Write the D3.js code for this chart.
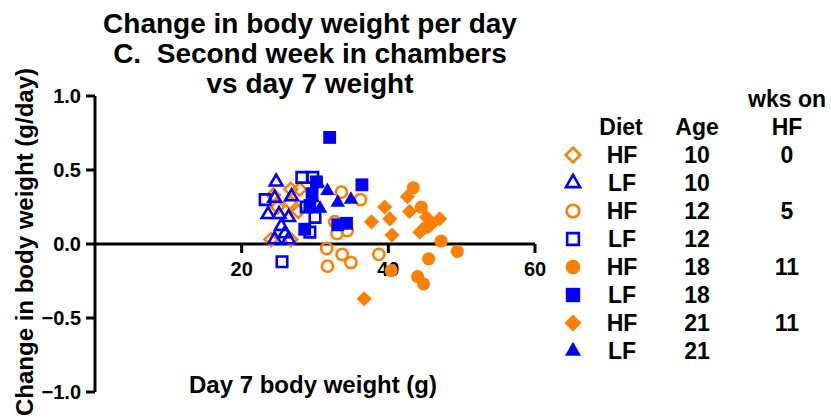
<!DOCTYPE html>
<meta charset="utf-8">
<body style="margin:0;background:#fff">
<script src="https://cdn.jsdelivr.net/npm/d3@7"></script>
<script>
var width = 831, height = 419;

// HF 10 (open diamond)
var hf10 = [[24.3,0.33],[26.7,0.37],[27.9,0.37],[26.6,0.28],[24.9,0.25],[27.7,0.22],[24.0,0.03],[26.7,0.03]];
// LF 10 (open triangle)
var lf10 = [[24.7,0.42],[24.5,0.31],[26.8,0.32],[23.6,0.20],[25.1,0.20],[26.4,0.18],[25.4,0.12],[25.9,0.07],[24.5,0.03],[26.4,0.03]];
// HF 12 (open circle)
var hf12 = [[33.6,0.35],[36.2,0.30],[32.7,0.15],[33.0,0.07],[34.4,0.09],[31.6,-0.03],[33.7,-0.07],[34.9,-0.125],[31.7,-0.15],[38.7,-0.07]];
// LF 12 (open square)
var lf12 = [[23.2,0.30],[28.2,0.45],[29.7,0.45],[28.8,0.25],[30.0,0.18],[29.3,0.08],[25.5,-0.12]];
// HF 18 (filled circle)
var hf18 = [[43.4,0.38],[44.5,0.25],[45.1,0.11],[47.2,0.02],[49.4,-0.05],[45.5,-0.10],[40.4,-0.18],[44.0,-0.22],[44.8,-0.27]];
// LF 18 (filled square)
var lf18 = [[32.0,0.72],[36.4,0.40],[33.1,0.13],[34.3,0.14],[29.3,0.26],[30.2,0.42],[29.6,0.34],[28.6,0.10]];
// HF 21 (filled diamond)
var hf21 = [[42.6,0.32],[39.5,0.25],[42.9,0.22],[37.7,0.15],[40.2,0.17],[40.5,0.06],[45.2,0.18],[47.0,0.17],[44.3,0.08],[45.8,0.13],[36.7,-0.37]];
// LF 21 (filled triangle)
var lf21 = [[30.4,0.41],[31.7,0.36],[33.1,0.28],[34.9,0.30],[29.7,0.31],[30.7,0.24]];

var xTicks = [20, 40, 60];
var yTicks = [-1.0, -0.5, 0.0, 0.5, 1.0];

var diets = ["HF","LF","HF","LF","HF","LF","HF","LF"];
var ages = ["10","10","12","12","18","18","21","21"];
var wks = ["0","","5","","11","","11",""];

var orange = "#ff8000", blue = "#0000ff";

var series = [
  {data: hf10, shape: "diamond", fill: false, color: orange},
  {data: lf10, shape: "triangle", fill: false, color: blue},
  {data: hf12, shape: "circle", fill: false, color: orange},
  {data: lf12, shape: "square", fill: false, color: blue},
  {data: hf18, shape: "circle", fill: true, color: orange},
  {data: lf18, shape: "square", fill: true, color: blue},
  {data: hf21, shape: "diamond", fill: true, color: orange},
  {data: lf21, shape: "triangle", fill: true, color: blue}
];

var svg = d3.select("body").append("svg")
    .attr("width", width)
    .attr("height", height)
    .style("font-family", "Liberation Sans, Arial, sans-serif")
    .style("font-weight", "bold");

var x = d3.scaleLinear().domain([0, 60]).range([95, 535]);
var y = d3.scaleLinear().domain([-1, 1]).range([392, 96]);

function symbolPath(s, k) {
  var open = !s.fill;
  k = k || 1;
  if (s.shape == "circle") return d3.symbol(d3.symbolCircle, (open ? 100 : 135) * k)();
  if (s.shape == "square") return d3.symbol(d3.symbolSquare, (open ? 110 : 165) * k)();
  if (s.shape == "diamond") return d3.symbol(d3.symbolSquare, (open ? 85 : 115) * k)();
  return d3.symbol(d3.symbolTriangle, (open ? 70 : 90) * k)();
}
function rot(s) { return s.shape == "diamond" ? " rotate(45)" : ""; }

// title
var title = ["Change in body weight per day", "C.  Second week in chambers", "vs day 7 weight"];
svg.append("g").selectAll("text")
  .data(title).enter().append("text")
    .attr("x", 310)
    .attr("y", (d, i) => 33 + i * 30)
    .attr("text-anchor", "middle")
    .style("font-size", "28px")
    .style("white-space", "pre")
    .text(d => d);

// axes
var g = svg.append("g");
g.append("line").attr("x1", 95).attr("x2", 95).attr("y1", y(1)).attr("y2", y(-1))
  .attr("stroke", "#000").attr("stroke-width", 3);
g.selectAll(".yt").data(yTicks).enter().append("line")
  .attr("x1", 86).attr("x2", 95).attr("y1", d => y(d)).attr("y2", d => y(d))
  .attr("stroke", "#000").attr("stroke-width", 3);
g.selectAll(".yl").data(yTicks).enter().append("text")
  .attr("x", 81).attr("y", d => y(d)).attr("dy", "0.36em")
  .attr("text-anchor", "end").style("font-size", "20px")
  .text(d => d3.format(".1f")(d));

g.append("line").attr("x1", 95).attr("x2", x(60)).attr("y1", y(0)).attr("y2", y(0))
  .attr("stroke", "#000").attr("stroke-width", 3);
g.selectAll(".xt").data(xTicks).enter().append("line")
  .attr("x1", d => x(d)).attr("x2", d => x(d)).attr("y1", y(0)).attr("y2", y(0) + 9)
  .attr("stroke", "#000").attr("stroke-width", 3);
g.selectAll(".xl").data(xTicks).enter().append("text")
  .attr("x", d => x(d)).attr("y", y(0) + 32)
  .attr("text-anchor", "middle").style("font-size", "20px")
  .text(d => d);

svg.append("text").attr("x", 313).attr("y", 393).attr("text-anchor", "middle")
  .style("font-size", "24px").text("Day 7 body weight (g)");
svg.append("text").attr("transform", "translate(33,242) rotate(-90)")
  .attr("text-anchor", "middle").style("font-size", "24px")
  .text("Change in body weight (g/day)");

// points
series.forEach(function(s) {
  svg.append("g").selectAll("path")
    .data(s.data).enter().append("path")
      .attr("d", symbolPath(s))
      .attr("transform", d => "translate(" + x(d[0]) + "," + y(d[1]) + ")" + rot(s))
      .attr("fill", s.fill ? s.color : "none")
      .attr("stroke", s.fill ? "none" : s.color)
      .attr("stroke-width", 2.6);
});

// legend
var leg = svg.append("g").style("font-size", "23px");
leg.append("text").attr("x", 787).attr("y", 107).attr("text-anchor", "middle").text("wks on");
leg.append("text").attr("x", 787).attr("y", 135).attr("text-anchor", "middle").text("HF");
leg.append("text").attr("x", 621).attr("y", 135).attr("text-anchor", "middle").text("Diet");
leg.append("text").attr("x", 697).attr("y", 135).attr("text-anchor", "middle").text("Age");

series.forEach(function(s, i) {
  var by = 163 + i * 28;
  leg.append("path")
    .attr("d", symbolPath(s, 1.25))
    .attr("transform", "translate(573," + (by - 8) + ")" + rot(s))
    .attr("fill", s.fill ? s.color : "none")
    .attr("stroke", s.fill ? "none" : s.color)
    .attr("stroke-width", 2.6);
  leg.append("text").attr("x", 622).attr("y", by).attr("text-anchor", "middle").text(diets[i]);
  leg.append("text").attr("x", 697).attr("y", by).attr("text-anchor", "middle").text(ages[i]);
  leg.append("text").attr("x", 787).attr("y", by).attr("text-anchor", "middle").text(wks[i]);
});
</script>
</body>
</html>
